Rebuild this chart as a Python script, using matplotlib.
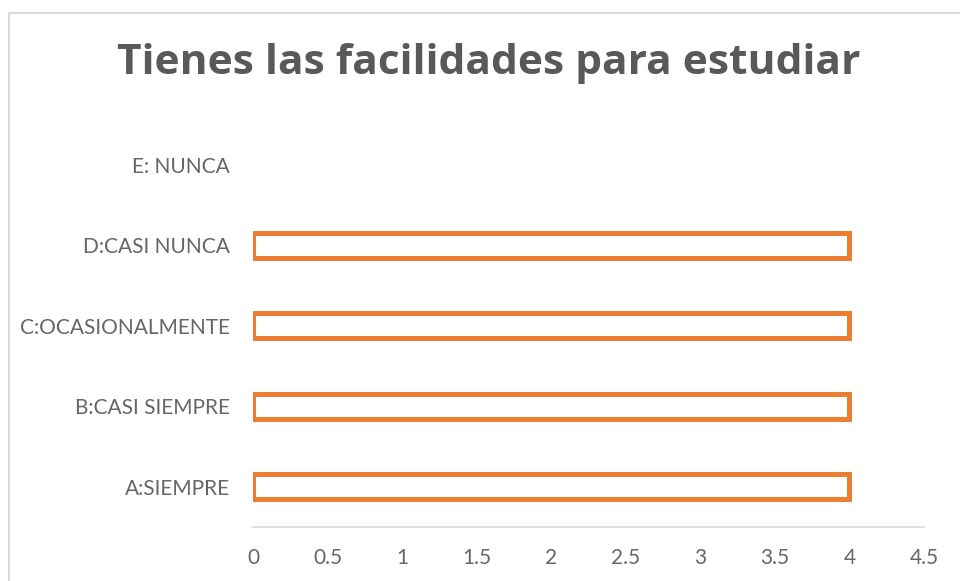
import matplotlib.pyplot as plt
from matplotlib.patches import Rectangle

plt.rcParams['font.family'] = ['Lato', 'DejaVu Sans']

categories = ['A:SIEMPRE', 'B:CASI SIEMPRE', 'C:OCASIONALMENTE', 'D:CASI NUNCA', 'E: NUNCA']
values = [4, 4, 4, 4, 0]
x_ticks = [0, 0.5, 1, 1.5, 2, 2.5, 3, 3.5, 4, 4.5]
x_labels = ['0', '0.5', '1', '1.5', '2', '2.5', '3', '3.5', '4', '4.5']

orange = '#ED7D31'
gris = '#595959'

fig = plt.figure(figsize=(9.6, 5.81), dpi=100)
# marco del gráfico (recortado a la derecha y abajo)
fig.patches.append(Rectangle((8.5 / 960, -0.1), 1.2, 1 - 13 / 581 + 0.1,
                             transform=fig.transFigure, fill=False,
                             edgecolor='#D9D9D9', linewidth=1.5))

ax = fig.add_axes([253 / 960, 1 - 527 / 581, (924 - 253) / 960, (527 - 124.5) / 581])

pos = list(range(len(categories)))
bars = ax.barh(pos, values, height=0.31, color='white', edgecolor=orange, linewidth=3.6)
for b, v in zip(bars, values):
    if v == 0:
        b.set_linewidth(0)

ax.set_xlim(0, 4.5)
ax.set_ylim(-0.5, len(categories) - 0.5)
ax.set_xticks(x_ticks)
ax.set_xticklabels(x_labels)
ax.set_yticks(pos)
ax.set_yticklabels(categories)
ax.tick_params(axis='both', length=0, labelsize=15, labelcolor='#666666')
ax.tick_params(axis='x', pad=15)
ax.tick_params(axis='y', pad=16.5)

for s in ['top', 'right', 'left']:
    ax.spines[s].set_visible(False)
ax.spines['bottom'].set_color('#D9D9D9')
ax.spines['bottom'].set_linewidth(1.2)

fig.text(489 / 960, 1 - 63 / 581, 'Tienes las facilidades para estudiar',
         ha='center', va='center', fontsize=30.6, fontweight='bold', color=gris,
         family=['Open Sans', 'DejaVu Sans'])

fig.savefig('out.png', dpi=100)
